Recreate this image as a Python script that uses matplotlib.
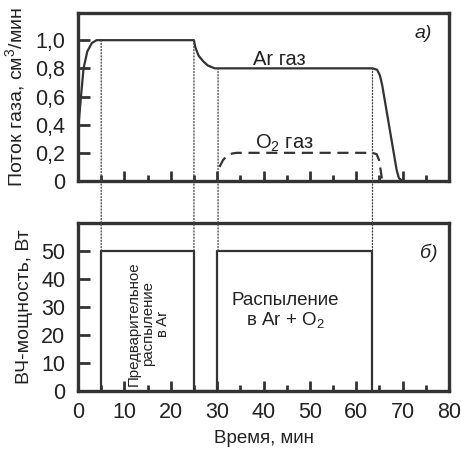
import matplotlib
matplotlib.use("Agg")
import matplotlib.pyplot as plt
from matplotlib.patches import ConnectionPatch
from matplotlib.ticker import MultipleLocator

plt.rcParams['font.family'] = ['Liberation Sans', 'DejaVu Sans']
plt.rcParams['mathtext.fontset'] = 'custom'
plt.rcParams['mathtext.rm'] = 'Liberation Sans'
plt.rcParams['mathtext.it'] = 'Liberation Sans:italic'

# --- data ---
ar_t = [0, 0.3, 0.7, 1.2, 2.0, 3.0, 4.0, 5.0, 25.0, 25.3, 26.0, 27.0, 28.0, 29.5,
        63.5, 64.5, 65.1, 65.6, 68.7, 69.2, 70.0]
ar_f = [0.35, 0.47, 0.62, 0.80, 0.92, 0.98, 1.0, 1.0, 1.0, 0.95, 0.89, 0.85, 0.82, 0.80,
        0.80, 0.79, 0.75, 0.68, 0.08, 0.02, 0.0]
o2_t = [30.5, 31.3, 32.2, 33.2, 34.2, 63.5, 64.4, 64.9, 65.3, 65.6]
o2_f = [0.10, 0.15, 0.18, 0.195, 0.20, 0.20, 0.19, 0.15, 0.07, 0.0]
pw_t = [5, 5, 25, 25, 30, 30, 63.5, 63.5]
pw_v = [0, 50, 50, 0, 0, 50, 50, 0]
# transitions: (time, flow level in panel a, power level in panel b)
marks_t = [5, 25, 30.2, 63.5]
marks_f = [1.0, 1.0, 0.8, 0.8]
marks_p = [50, 50, 50, 50]

flow_ticks = [0, 0.2, 0.4, 0.6, 0.8, 1.0]
flow_labels = ['0', '0,2', '0,4', '0,6', '0,8', '1,0']
pw_ticks = [0, 10, 20, 30, 40, 50]
x_ticks = [0, 10, 20, 30, 40, 50, 60, 70, 80]

C = '#333333'
T = '#222222'
fig = plt.figure(figsize=(4.61, 4.5), dpi=100)
ax1 = fig.add_axes([78/461, 1-181/450, 371/461, 168/450])
ax2 = fig.add_axes([78/461, 1-391/450, 371/461, 168/450])

for ax in (ax1, ax2):
    for s in ax.spines.values():
        s.set_linewidth(2.4)
        s.set_color(C)
    ax.set_xlim(0, 80)
    ax.xaxis.set_major_locator(MultipleLocator(10))
    ax.xaxis.set_minor_locator(MultipleLocator(5))
    ax.tick_params(axis='x', which='major', direction='in', length=7, width=2, color=C,
                   labelsize=15.5, pad=8)
    ax.tick_params(axis='x', which='minor', direction='in', length=4, width=2, color=C)
    ax.tick_params(axis='y', direction='in', length=8.5, width=2, color=C, labelsize=15.5, pad=9)
    ax.tick_params(labelcolor=T)

ax1.plot(ar_t, ar_f, color=C, lw=1.6)
ax1.plot(o2_t, o2_f, color=C, lw=1.6, linestyle=(0, (5, 3)))
ax1.set_ylim(0, 1.193)
ax1.set_yticks(flow_ticks)
ax1.set_yticklabels(flow_labels)
ax1.tick_params(axis='x', labelbottom=False)
ax1.set_ylabel('Поток газа, см$^3$/мин', fontsize=14, color=T, labelpad=6)
ax1.text(43.5, 0.86, 'Ar газ', fontsize=14.5, ha='center', va='center', color=T)
ax1.text(44.6, 0.27, 'O$_2$ газ', fontsize=14.5, ha='center', va='center', color=T)
ax1.text(74.5, 1.05, 'а)', fontsize=14, ha='center', va='center', style='italic', color=T)

ax2.plot(pw_t, pw_v, color=C, lw=1.6)
ax2.set_ylim(0, 60)
ax2.set_yticks(pw_ticks)
ax2.set_xticks(x_ticks)
ax2.set_ylabel('ВЧ-мощность, Вт', fontsize=14, color=T, labelpad=6)
ax2.set_xlabel('Время, мин', fontsize=13.5, color=T, labelpad=5)
ax2.text(75.6, 49.5, 'б)', fontsize=14, ha='center', va='center', style='italic', color=T)
ax2.text(44.6, 28.5, 'Распыление\nв Ar + O$_2$', fontsize=13.5, ha='center', va='center',
         linespacing=1.1, color=T)
ax2.text(15.2, 24, 'Предварительное\nраспыление\nв Ar', fontsize=10.8, ha='center', va='center',
         rotation=90, linespacing=1.05, color=T)

for t, f, p in zip(marks_t, marks_f, marks_p):
    con = ConnectionPatch(xyA=(t, f), coordsA=ax1.transData, xyB=(t, p), coordsB=ax2.transData,
                          linestyle=(0, (1, 1.5)), color='#444444', lw=0.9)
    fig.add_artist(con)

fig.savefig('out.png', dpi=100)
